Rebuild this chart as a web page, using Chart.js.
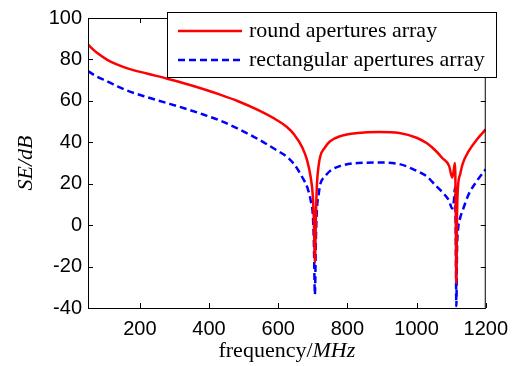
<!DOCTYPE html>
<html>
<head>
<meta charset="utf-8">
<script src="https://cdn.jsdelivr.net/npm/chart.js@4.4.1/dist/chart.umd.min.js"></script>
<style>
  body { margin: 0; background: #fff; }
  #seChart { display: block; }
</style>
</head>
<body>
<canvas id="seChart" width="517" height="366"></canvas>
<script>
// frequency samples (MHz), denser around the two resonance dips
const freqs = [50, 75, 107, 135, 164, 220, 279, 340, 385, 430, 484, 541, 599, 625, 646, 670, 684, 694, 700, 703, 706, 709, 712, 717, 722, 735, 750, 780, 830, 890, 950, 1000, 1030, 1056, 1075, 1094, 1103, 1108, 1111, 1113, 1115, 1117, 1120, 1126, 1133, 1151, 1175, 1200];
const roundSE = [87.2, 83.3, 79.7, 77.5, 75.7, 73.2, 70.7, 67.9, 65.6, 63.1, 59.8, 55.6, 50.4, 47.4, 43.8, 37.4, 31, 23, 14, 2, -18, 5, 20, 29, 33.5, 37.5, 40.5, 43, 44.5, 45, 44.5, 42.2, 39.5, 35.8, 32.3, 28.6, 23, 27, 30, 12, -28, 5, 19, 24.5, 29.5, 35.8, 41.5, 46.2];
const rectSE = [74.4, 71.8, 69.3, 67, 64.9, 61.8, 58.9, 55.8, 53.3, 50.6, 46.5, 41.6, 35.8, 33, 29.4, 23, 18.2, 11.8, 5, -8, -33.5, -6, 8, 15, 20, 23.5, 26.2, 28.6, 30, 30.2, 29.5, 26.2, 23.5, 19, 15.8, 11.8, 8, 12, 18, 0, -39, -12, -2, 3.5, 7, 15, 21.5, 27];
const xTicks = [200, 400, 600, 800, 1000, 1200];
const yTicks = [-40, -20, 0, 20, 40, 60, 80, 100];
const seriesNames = ["round apertures array", "rectangular apertures array"];

const toPoints = (ys) => freqs.map((f, i) => ({ x: f, y: ys[i] }));

// axes box, inward ticks, boxed legend and axis titles (MATLAB look)
const matlabFrame = {
  id: "matlabFrame",
  afterDraw(chart) {
    const ctx = chart.ctx;
    const a = chart.chartArea;
    const xs = chart.scales.x;
    const ys = chart.scales.y;
    ctx.save();
    ctx.strokeStyle = "#000";
    ctx.lineWidth = 1;
    ctx.strokeRect(a.left + 0.5, a.top + 0.5, a.right - a.left - 1, a.bottom - a.top);
    ctx.beginPath();
    xTicks.forEach((v) => {
      const px = Math.round(xs.getPixelForValue(v)) + 0.5;
      ctx.moveTo(px, a.bottom); ctx.lineTo(px, a.bottom - 5);
      ctx.moveTo(px, a.top); ctx.lineTo(px, a.top + 5);
    });
    yTicks.forEach((v) => {
      const py = Math.round(ys.getPixelForValue(v)) + 0.5;
      ctx.moveTo(a.left, py); ctx.lineTo(a.left + 5, py);
      ctx.moveTo(a.right, py); ctx.lineTo(a.right - 5, py);
    });
    ctx.stroke();

    // legend
    const lx = 167, ly = 12, lw = 329, lh = 65;
    ctx.fillStyle = "#fff";
    ctx.fillRect(lx, ly, lw, lh);
    ctx.strokeRect(lx + 0.5, ly + 0.5, lw, lh);
    const rows = [31, 60];
    chart.data.datasets.forEach((ds, i) => {
      ctx.beginPath();
      ctx.strokeStyle = ds.borderColor;
      ctx.lineWidth = ds.borderWidth;
      ctx.setLineDash(ds.borderDash || []);
      ctx.moveTo(178, rows[i]); ctx.lineTo(242, rows[i]);
      ctx.stroke();
      ctx.setLineDash([]);
      ctx.fillStyle = "#000";
      ctx.font = "22px 'Liberation Serif', 'Times New Roman', serif";
      ctx.textBaseline = "middle";
      ctx.textAlign = "left";
      ctx.fillText(ds.label, 249, rows[i]);
    });

    // x title: frequency/MHz (unit in italic)
    ctx.fillStyle = "#000";
    ctx.textBaseline = "alphabetic";
    const upright = "22px 'Liberation Serif', serif";
    const italic = "italic 22px 'Liberation Serif', serif";
    ctx.font = upright;
    const w1 = ctx.measureText("frequency/").width;
    ctx.font = italic;
    const w2 = ctx.measureText("MHz").width;
    const start = (a.left + a.right) / 2 - (w1 + w2) / 2;
    ctx.font = upright;
    ctx.fillText("frequency/", start, 357);
    ctx.font = italic;
    ctx.fillText("MHz", start + w1, 357);

    // y title: SE/dB
    ctx.translate(32, (a.top + a.bottom) / 2);
    ctx.rotate(-Math.PI / 2);
    ctx.textAlign = "center";
    ctx.font = italic;
    ctx.fillText("SE/dB", 0, 0);
    ctx.restore();
  },
};

new Chart(document.getElementById("seChart").getContext("2d"), {
  type: "line",
  data: {
    datasets: [
      {
        label: seriesNames[0],
        data: toPoints(roundSE),
        borderColor: "#ff0000",
        borderWidth: 2.5,
        pointRadius: 0,
        cubicInterpolationMode: "monotone",
        fill: false,
      },
      {
        label: seriesNames[1],
        data: toPoints(rectSE),
        borderColor: "#0000ff",
        borderWidth: 2.5,
        borderDash: [7, 4],
        pointRadius: 0,
        cubicInterpolationMode: "monotone",
        fill: false,
      },
    ],
  },
  options: {
    responsive: false,
    animation: false,
    layout: { padding: { left: 0, top: 16, right: 26, bottom: 0 } },
    plugins: {
      legend: { display: false },
      tooltip: { enabled: false },
    },
    scales: {
      x: {
        type: "linear",
        min: 50,
        max: 1200,
        afterBuildTicks: (scale) => {
          scale.ticks = xTicks.map((v) => ({ value: v }));
        },
        afterFit: (scale) => { scale.height = 58; },
        grid: { display: false, drawTicks: false },
        border: { display: false },
        ticks: {
          padding: 9,
          maxRotation: 0,
          color: "#000",
          callback: (v) => String(v),
          font: { family: "'Liberation Sans', Arial, sans-serif", size: 20 },
        },
      },
      y: {
        min: -40,
        max: 100,
        afterBuildTicks: (scale) => {
          scale.ticks = yTicks.map((v) => ({ value: v }));
        },
        afterFit: (scale) => { scale.width = 88; },
        grid: { display: false, drawTicks: false },
        border: { display: false },
        ticks: {
          padding: 6,
          color: "#000",
          callback: (v) => String(v),
          font: { family: "'Liberation Sans', Arial, sans-serif", size: 20 },
        },
      },
    },
  },
  plugins: [matlabFrame],
});
</script>
</body>
</html>
